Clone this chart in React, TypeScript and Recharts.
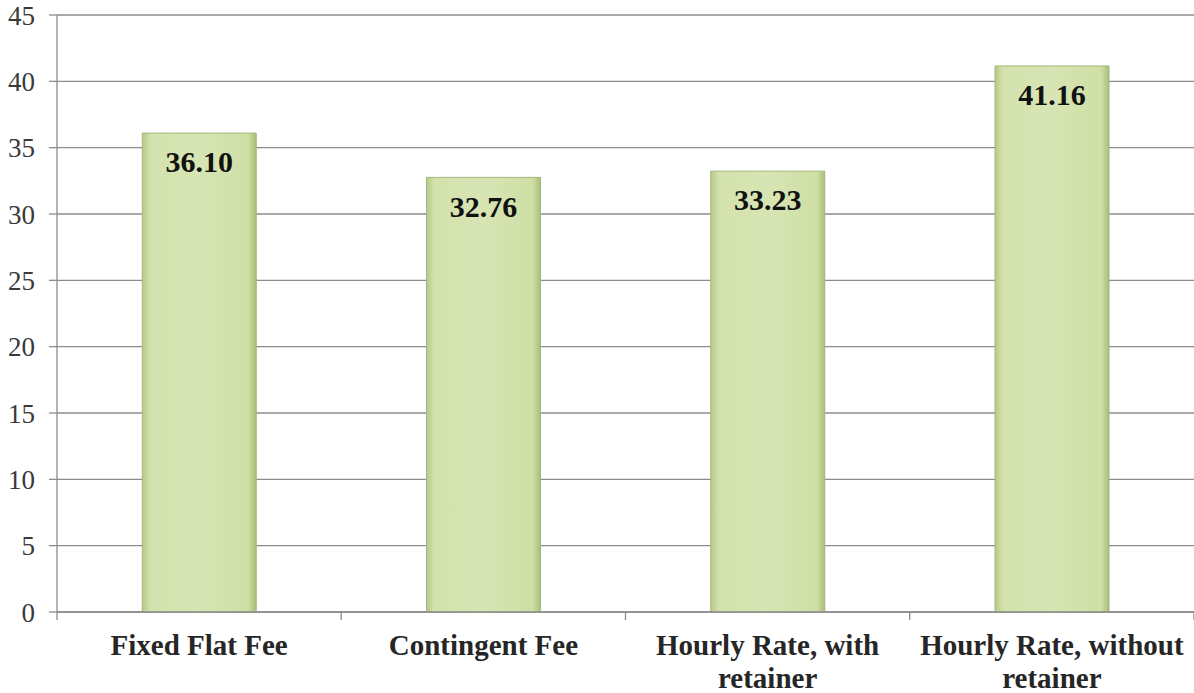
import { BarChart, Bar, XAxis, YAxis, CartesianGrid, LabelList } from "recharts";

const categories = ["Fixed Flat Fee", "Contingent Fee", "Hourly Rate, with retainer", "Hourly Rate, without retainer"];
const values = [36.1, 32.76, 33.23, 41.16];
const yTicks = [0, 5, 10, 15, 20, 25, 30, 35, 40, 45];
const tickLines: Record<string, string[]> = {
  "Hourly Rate, with retainer": ["Hourly Rate, with", "retainer"],
  "Hourly Rate, without retainer": ["Hourly Rate, without", "retainer"],
};

const data = categories.map((name, i) => ({ name, value: values[i] }));

const FONT = '"Liberation Serif", "Times New Roman", serif';
const AXIS = "#8c8c8c";

// category label plus the tick marks that sit on the category boundaries
function CatTick(props: any) {
  const { x, y, payload, index, visibleTicksCount } = props;
  const half = payload.offset || 0;
  const lines = tickLines[payload.value] || [payload.value];
  return (
    <g>
      <line x1={x - half} x2={x - half} y1={y} y2={y + 8} stroke={AXIS} strokeWidth={1.3} />
      {index === visibleTicksCount - 1 && (
        <line x1={x + half} x2={x + half} y1={y} y2={y + 8} stroke={AXIS} strokeWidth={1.3} />
      )}
      <text x={x} y={y} textAnchor="middle" fontFamily={FONT} fontWeight="bold" fontSize={29} fill="#262626">
        {lines.map((l, i) => (
          <tspan key={i} x={x} dy={i === 0 ? 43 : 33}>{l}</tspan>
        ))}
      </text>
    </g>
  );
}

export default function App() {
  return (
    <div style={{ position: "absolute", left: 0, top: 0 }}>
      <BarChart width={1194} height={693} data={data} margin={{ top: 15, right: 0, left: 0, bottom: 0 }} barCategoryGap="30%">
        <defs>
          <linearGradient id="barFill" x1="0" y1="0" x2="1" y2="0">
            <stop offset="0%" stopColor="#b7ca86" />
            <stop offset="7%" stopColor="#d3e2ad" />
            <stop offset="50%" stopColor="#d7e5b4" />
            <stop offset="93%" stopColor="#cfdfa5" />
            <stop offset="100%" stopColor="#a9be78" />
          </linearGradient>
        </defs>
        <CartesianGrid vertical={false} stroke={AXIS} strokeWidth={1.3} />
        <XAxis
          dataKey="name"
          interval={0}
          height={81}
          axisLine={{ stroke: AXIS, strokeWidth: 1.3 }}
          tickLine={false}
          tickSize={0}
          tickMargin={0}
          tick={<CatTick />}
        />
        <YAxis
          domain={[0, 45]}
          ticks={yTicks}
          width={57}
          tickSize={8}
          tickMargin={14}
          axisLine={{ stroke: AXIS, strokeWidth: 1.3 }}
          tickLine={{ stroke: AXIS, strokeWidth: 1.3 }}
          tick={{ fontFamily: FONT, fontSize: 27, fill: "#3a3a3a" }}
        />
        <Bar dataKey="value" fill="url(#barFill)" stroke="#a4b67a" strokeWidth={1} isAnimationActive={false}>
          <LabelList
            dataKey="value"
            position="insideTop"
            offset={18}
            formatter={(v: any) => Number(v).toFixed(2)}
            style={{ fontFamily: FONT, fontWeight: "bold", fontSize: 30, fill: "#111" }}
          />
        </Bar>
      </BarChart>
    </div>
  );
}
